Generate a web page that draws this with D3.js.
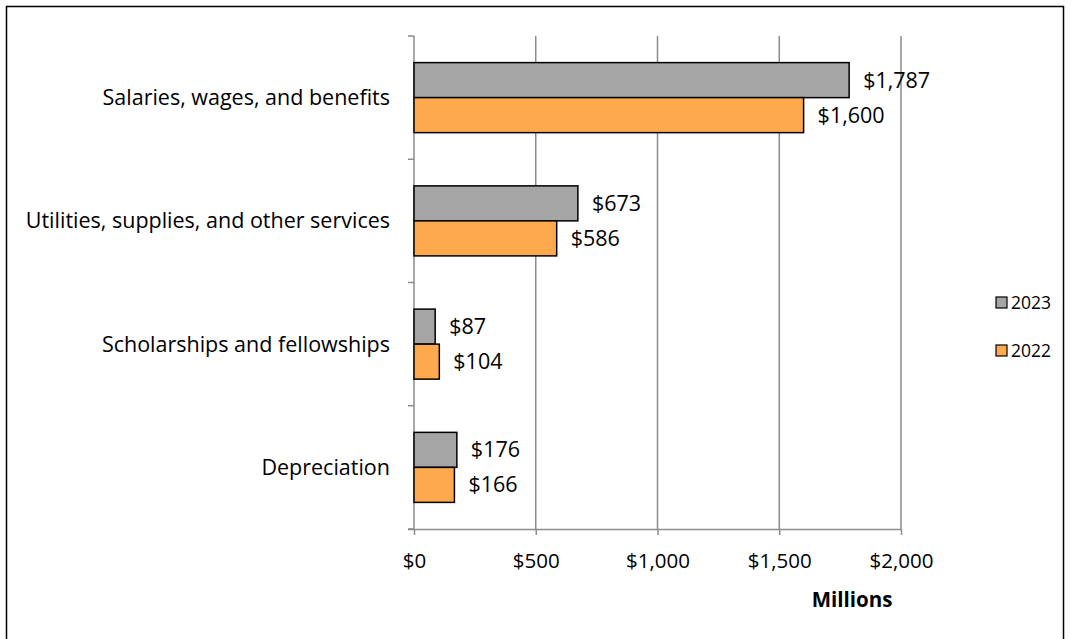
<!DOCTYPE html>
<html>
<head>
<meta charset="utf-8">
<script src="https://cdn.jsdelivr.net/npm/d3@7"></script>
<style>
  body { margin: 0; background: #fff; }
  text { font-family: "Open Sans", "Noto Sans", sans-serif; fill: #000; }
</style>
</head>
<body>
<div id="chart"></div>
<script>
var svgWidth = 1071;
var svgHeight = 639;

// chart data (millions of dollars)
var categories = ["Salaries, wages, and benefits", "Utilities, supplies, and other services", "Scholarships and fellowships", "Depreciation"];
var seriesNames = ["2023", "2022"];
var values2023 = [1787, 673, 87, 176];
var values2022 = [1600, 586, 104, 166];
var xTicks = [0, 500, 1000, 1500, 2000];
var colors = {"2023": "#a5a5a5", "2022": "#ffa94f"};

var plot = { left: 414, right: 901, top: 36, bottom: 529 };

var svg = d3.select("#chart")
            .append("svg")
            .attr("width", svgWidth)
            .attr("height", svgHeight);

// outer frame (bottom edge falls off the picture)
svg.append("path")
   .attr("d", "M6.5,639 V6.5 H1063.5 V639")
   .attr("fill", "none")
   .attr("stroke", "#000")
   .attr("stroke-width", 1.5);

var xScale = d3.scaleLinear()
               .domain([0, 2000])
               .range([plot.left, plot.right]);

var yScale = d3.scaleBand()
               .domain(categories)
               .range([plot.top, plot.bottom])
               .paddingInner(0);

var inner = d3.scaleBand()
              .domain(seriesNames)
              .range([0, yScale.bandwidth()])
              .paddingInner(0)
              .paddingOuter(0.76);

// gridlines
svg.append("g")
   .selectAll("line")
   .data(xTicks.slice(1))
   .enter().append("line")
   .attr("x1", d => xScale(d)).attr("x2", d => xScale(d))
   .attr("y1", plot.top).attr("y2", plot.bottom)
   .attr("stroke", "#8c8c8c")
   .attr("stroke-width", 1.5);

// x axis
var xAxis = d3.axisBottom(xScale)
              .tickValues(xTicks)
              .tickSize(6)
              .tickFormat(d => "$" + d3.format(",")(d));

var gx = svg.append("g")
            .attr("transform", `translate(0, ${plot.bottom})`)
            .call(xAxis);
gx.select(".domain").attr("stroke", "#8c8c8c").attr("stroke-width", 1.5)
  .attr("d", `M${plot.left - 6},0.5H${plot.right}`);
gx.selectAll(".tick line").attr("stroke", "#8c8c8c").attr("stroke-width", 1.5);
gx.selectAll(".tick text")
  .attr("y", 24)
  .style("font-family", "'Open Sans', sans-serif")
  .style("font-size", "20.5px")
  .attr("fill", "#000");

// y axis: line plus ticks at band edges
var bandEdges = categories.map(c => yScale(c)).concat([plot.bottom]);
svg.append("line")
   .attr("x1", plot.left).attr("x2", plot.left)
   .attr("y1", plot.top).attr("y2", plot.bottom)
   .attr("stroke", "#8c8c8c").attr("stroke-width", 1.5);
svg.append("g")
   .selectAll("line")
   .data(bandEdges)
   .enter().append("line")
   .attr("x1", plot.left - 6).attr("x2", plot.left)
   .attr("y1", d => d).attr("y2", d => d)
   .attr("stroke", "#8c8c8c").attr("stroke-width", 1.5);

svg.append("g")
   .selectAll("text")
   .data(categories)
   .enter().append("text")
   .attr("x", plot.left - 24)
   .attr("y", d => yScale(d) + yScale.bandwidth() / 2)
   .attr("dy", "0.35em")
   .attr("text-anchor", "end")
   .style("font-size", "21.5px")
   .text(d => d);

// bars
var rows = [];
categories.forEach(function(c, i) {
    rows.push({cat: c, series: "2023", value: values2023[i]});
    rows.push({cat: c, series: "2022", value: values2022[i]});
});

svg.append("g")
   .selectAll("rect")
   .data(rows)
   .enter().append("rect")
   .attr("x", xScale(0))
   .attr("y", d => yScale(d.cat) + inner(d.series))
   .attr("width", d => xScale(d.value) - xScale(0))
   .attr("height", inner.bandwidth())
   .attr("fill", d => colors[d.series])
   .attr("stroke", "#000")
   .attr("stroke-width", 1.5);

svg.append("g")
   .selectAll("text")
   .data(rows)
   .enter().append("text")
   .attr("x", d => xScale(d.value) + 14)
   .attr("y", d => yScale(d.cat) + inner(d.series) + inner.bandwidth() / 2)
   .attr("dy", "0.35em")
   .style("font-size", "21.5px")
   .text(d => "$" + d3.format(",")(d.value));

// axis title
svg.append("text")
   .attr("x", 852)
   .attr("y", 607)
   .attr("text-anchor", "middle")
   .style("font-size", "20.5px")
   .style("font-weight", "bold")
   .text("Millions");

// legend
var legend = svg.append("g")
                .selectAll("g")
                .data(seriesNames)
                .enter().append("g")
                .attr("transform", (d, i) => `translate(996, ${297 + i * 48})`);
legend.append("rect")
      .attr("width", 11).attr("height", 11)
      .attr("fill", d => colors[d])
      .attr("stroke", "#000")
      .attr("stroke-width", 1.2);
legend.append("text")
      .attr("x", 15)
      .attr("y", 6)
      .attr("dy", "0.35em")
      .style("font-size", "17.5px")
      .text(d => d);
</script>
</body>
</html>
